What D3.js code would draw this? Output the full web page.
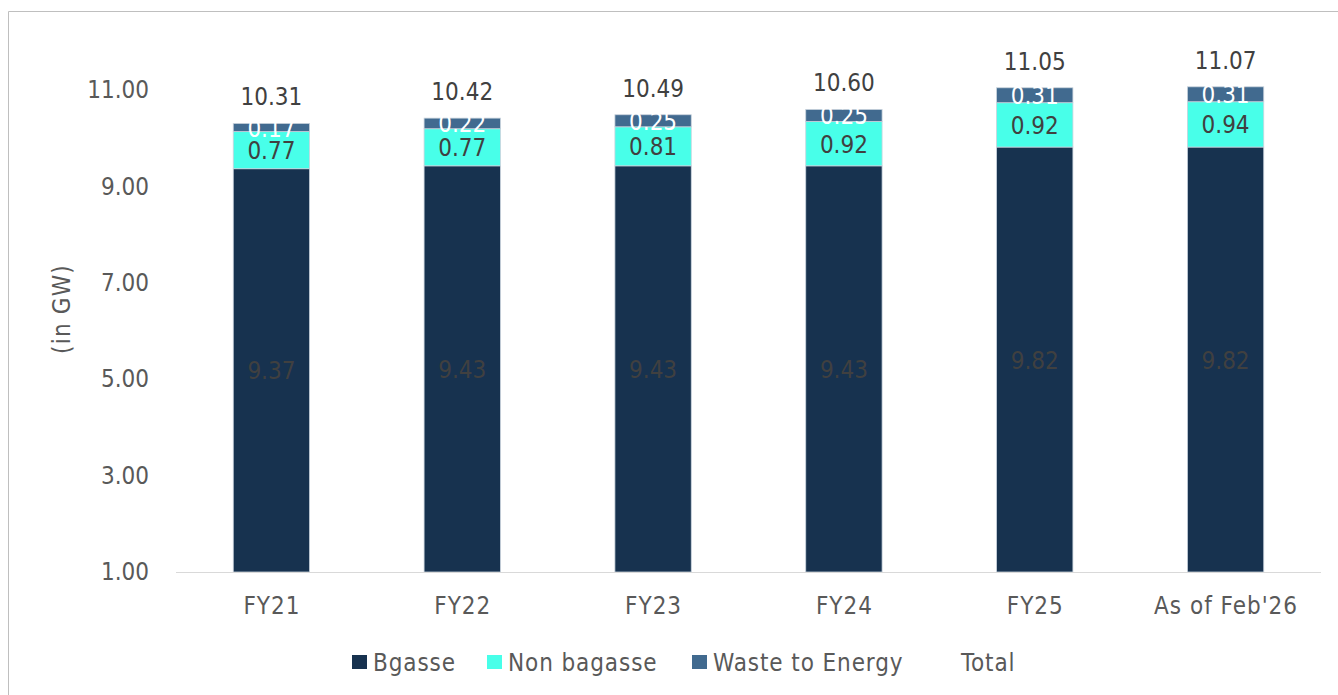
<!DOCTYPE html>
<html>
<head>
<meta charset="utf-8">
<script src="https://cdn.jsdelivr.net/npm/d3@7"></script>
<style>
  html, body { margin: 0; padding: 0; background: #fff; }
  svg { display: block; }
  text { font-family: "DejaVu Sans Condensed", "DejaVu Sans", sans-serif; }
</style>
</head>
<body>
<svg id="chart" width="1338" height="695"></svg>
<script>
const categories = ["FY21", "FY22", "FY23", "FY24", "FY25", "As of Feb'26"];
const bagasse = [9.37, 9.43, 9.43, 9.43, 9.82, 9.82];
const nonBagasse = [0.77, 0.77, 0.81, 0.92, 0.92, 0.94];
const wasteToEnergy = [0.17, 0.22, 0.25, 0.25, 0.31, 0.31];
const totals = [10.31, 10.42, 10.49, 10.60, 11.05, 11.07];
const yTicks = [1, 3, 5, 7, 9, 11];
const seriesNames = ["Bgasse", "Non bagasse", "Waste to Energy", "Total"];

const colors = ["#17324F", "#48FFE9", "#416A8F"];
const labelColors = ["#404040", "#404040", "#FFFFFF"];

const svg = d3.select("#chart");
const W = 1338, H = 695;
const plot = { left: 176, right: 1321, top: 42, bottom: 572 };

// outer frame
svg.append("line").attr("x1", 8.5).attr("x2", W).attr("y1", 11.5).attr("y2", 11.5)
  .attr("stroke", "#bfbfbf").attr("stroke-width", 1);
svg.append("line").attr("x1", 8.5).attr("x2", 8.5).attr("y1", 11.5).attr("y2", H)
  .attr("stroke", "#bfbfbf").attr("stroke-width", 1);

const x = d3.scaleBand().domain(categories).range([plot.left, plot.right])
  .paddingInner(0.6).paddingOuter(0.3);
const y = d3.scaleLinear().domain([1, 12]).range([plot.bottom, plot.top]);

// Y axis labels
const yAxis = d3.axisLeft(y).tickValues(yTicks).tickFormat(d3.format(".2f")).tickSize(0).tickPadding(27);
const gy = svg.append("g").attr("transform", `translate(${plot.left},0)`).call(yAxis);
gy.select(".domain").remove();
gy.selectAll("text").attr("fill", "#595959").attr("font-size", 24)
  .style("font-family", '"DejaVu Sans Condensed", "DejaVu Sans", sans-serif');

// axis title
svg.append("text").attr("transform", `translate(62,${(plot.top + plot.bottom) / 2 + 2}) rotate(-90)`)
  .attr("text-anchor", "middle").attr("dominant-baseline", "central")
  .attr("letter-spacing", 1.2)
  .attr("fill", "#595959").attr("font-size", 24).text("(in GW)");

// stacked data
const rows = categories.map((c, i) => ({ cat: c, b: bagasse[i], n: nonBagasse[i], w: wasteToEnergy[i], t: totals[i] }));
const stack = d3.stack().keys(["b", "n", "w"]).value((d, k) => d[k]);
// baseline at axis minimum (1.00)
const stacked = stack(rows).map(layer => {
  layer.forEach(seg => { seg[0] = seg[0] === 0 ? 1 : seg[0]; });
  return layer;
});

stacked.forEach((layer, li) => {
  const g = svg.append("g");
  g.selectAll("rect").data(layer).enter().append("rect")
    .attr("x", d => x(d.data.cat))
    .attr("width", x.bandwidth())
    .attr("y", d => y(d[1]))
    .attr("height", d => y(d[0]) - y(d[1]))
    .attr("fill", colors[li])
    .attr("stroke", "#c9d3dd").attr("stroke-width", 0.8);
});

// segment labels
stacked.forEach((layer, li) => {
  const key = layer.key;
  svg.append("g").selectAll("text").data(layer).enter().append("text")
    .attr("x", d => x(d.data.cat) + x.bandwidth() / 2)
    .attr("y", d => (y(d[0]) + y(d[1])) / 2 + 1)
    .attr("text-anchor", "middle").attr("dominant-baseline", "central")
    .attr("fill", labelColors[li]).attr("font-size", 24)
    .text(d => d3.format(".2f")(d.data[key]));
});

// total labels
svg.append("g").selectAll("text").data(rows).enter().append("text")
  .attr("x", d => x(d.cat) + x.bandwidth() / 2)
  .attr("y", d => y(d.t) - 26)
  .attr("text-anchor", "middle").attr("dominant-baseline", "central")
  .attr("fill", "#404040").attr("font-size", 24)
  .text(d => d3.format(".2f")(d.t));

// X axis baseline and labels
svg.append("line").attr("x1", plot.left).attr("x2", plot.right)
  .attr("y1", plot.bottom + 0.5).attr("y2", plot.bottom + 0.5)
  .attr("stroke", "#d9d9d9").attr("stroke-width", 1.2);
svg.append("g").selectAll("text").data(categories).enter().append("text")
  .attr("x", d => x(d) + x.bandwidth() / 2 + 0.5)
  .attr("y", 606)
  .attr("text-anchor", "middle").attr("dominant-baseline", "central")
  .attr("letter-spacing", 1)
  .attr("fill", "#595959").attr("font-size", 24).text(d => d);

// legend
const legendItems = [
  { name: seriesNames[0], color: colors[0], x: 352 },
  { name: seriesNames[1], color: colors[1], x: 487 },
  { name: seriesNames[2], color: colors[2], x: 692 },
  { name: seriesNames[3], color: null, x: 940 }
];
const lg = svg.append("g");
legendItems.forEach(it => {
  if (it.color) {
    lg.append("rect").attr("x", it.x).attr("y", 655).attr("width", 15).attr("height", 14).attr("fill", it.color);
  }
  lg.append("text").attr("x", it.x + 21).attr("y", 663)
    .attr("dominant-baseline", "central").attr("letter-spacing", 0.9)
    .attr("fill", "#595959").attr("font-size", 24).text(it.name);
});
</script>
</body>
</html>
